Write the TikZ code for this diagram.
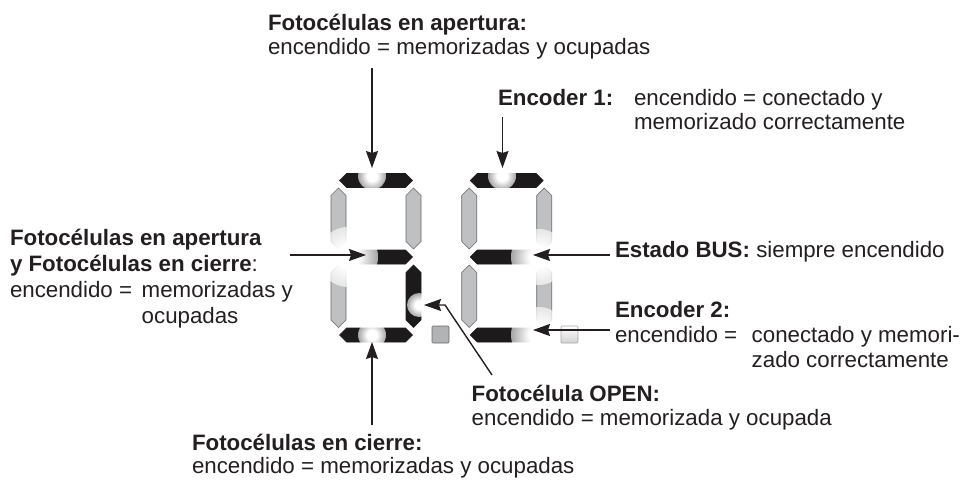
\documentclass[tikz,border=0pt]{standalone}
\usepackage{fontspec}
\setmainfont{Liberation Sans}
\usetikzlibrary{arrows.meta,fadings}
\definecolor{txt}{RGB}{35,31,32}
\definecolor{seggray}{RGB}{190,192,194}
\definecolor{segedge}{RGB}{105,105,107}
\definecolor{segblack}{RGB}{28,26,27}
\definecolor{dpgray}{RGB}{178,179,181}
\pgfdeclareradialshading{glowshade}{\pgfpointorigin}{color(0bp)=(pgftransparent!0); color(9bp)=(pgftransparent!0); color(50bp)=(pgftransparent!100)}
\pgfdeclarefading{glowfade}{\pgfuseshading{glowshade}}
\newcommand\hseg[4]{\path[#1] ({#2},{#4}) -- ({#2+7},{#4-7}) -- ({#3-7},{#4-7}) -- ({#3},{#4}) -- ({#3-7},{#4+7}) -- ({#2+7},{#4+7}) -- cycle;}
\newcommand\vseg[4]{\path[#1] ({#4},{#2}) -- ({#4+7.5},{#2+7.5}) -- ({#4+7.5},{#3-7.5}) -- ({#4},{#3}) -- ({#4-7.5},{#3-7.5}) -- ({#4-7.5},{#2+7.5}) -- cycle;}
\newcommand\glow[3]{\fill[white, path fading=glowfade] (#1,#2) circle (#3);}
\begin{document}
\begin{tikzpicture}[x=1pt,y=-1pt,
  lit/.style={fill=segblack,draw=segblack,line width=0.6pt},
  unlit/.style={fill=seggray,draw=segedge,line width=0.6pt},
  arr/.style={draw=txt,line width=1.4pt,-{Stealth[length=17pt,width=12pt,inset=2pt]}},
  lbl/.style={anchor=base west,inner sep=0pt,outer sep=0pt,text=txt,font=\fontsize{22.3}{25}\selectfont}]
\useasboundingbox (0,0) rectangle (963,481);
% digit 1
\hseg{lit}{339.5}{412.5}{180.5}
\vseg{unlit}{188}{249}{338.5}
\vseg{unlit}{188}{249}{413.5}
\hseg{lit}{339.5}{412.5}{257}
\vseg{unlit}{265}{327.5}{338.5}
\vseg{lit}{265}{327.5}{413.5}
\hseg{lit}{339.5}{412.5}{335}
% digit 2
\hseg{lit}{470.2}{543.2}{180.5}
\vseg{unlit}{188}{249}{469.2}
\vseg{unlit}{188}{249}{544.2}
\hseg{lit}{470.2}{543.2}{257}
\vseg{unlit}{265}{327.5}{469.2}
\vseg{unlit}{265}{327.5}{544.2}
\hseg{lit}{470.2}{543.2}{335}
% glows
\glow{372}{176}{14}
\glow{348}{257}{30}
\glow{419}{305}{12}
\glow{372}{335}{14}
\glow{502}{176}{14}
\glow{539}{257}{28}
\glow{539}{335}{28}
% decimal points
\path[fill=dpgray,draw=segedge,line width=0.6pt,rounded corners=1pt] (432,326) rectangle (449,343);
\path[top color=white,bottom color=black!18,draw=black!35,line width=0.6pt,rounded corners=1pt] (561,326) rectangle (578,343);
% coordinates
\coordinate (a1s) at (372,68);   \coordinate (a1t) at (372,168);
\coordinate (a2s) at (502.5,117); \coordinate (a2t) at (502.5,168);
\coordinate (a3s) at (290,255);  \coordinate (a3t) at (366,255);
\coordinate (a4s) at (372,425);  \coordinate (a4t) at (372,342);
\coordinate (a5s) at (492,375);  \coordinate (a5b) at (445,305); \coordinate (a5t) at (424,305);
\coordinate (a6s) at (610,255);  \coordinate (a6t) at (533,255);
\coordinate (a7s) at (610,330);  \coordinate (a7t) at (533,330);
% arrows
\draw[arr] (a1s) -- (a1t);
\draw[arr] (a2s) -- (a2t);
\draw[arr] (a3s) -- (a3t);
\draw[arr] (a4s) -- (a4t);
\draw[arr] (a5s) -- (a5b) -- (a5t);
\draw[arr] (a6s) -- (a6t);
\draw[arr] (a7s) -- (a7t);
% texts
\node[lbl] (t1a) at (268,30.7) {\bfseries Fotocélulas en apertura:};
\node[lbl] (t1b) at (268,55) {encendido = memorizadas y ocupadas};
\node[lbl] (t2a) at (498,105.7) {\bfseries Encoder 1:};
\node[lbl] (t2b) at (634,105.7) {encendido = conectado y};
\node[lbl] (t2c) at (634,130) {memorizado correctamente};
\node[lbl] (t3a) at (10,245) {\bfseries Fotocélulas en apertura};
\node[lbl] (t3b) at (10,271) {\textbf{y Fotocélulas en cierre}:};
\node[lbl] (t3c) at (10,297) {encendido =};
\node[lbl] (t3d) at (141.7,297) {memorizadas y};
\node[lbl] (t3e) at (141.7,323) {ocupadas};
\node[lbl] (t4) at (615,257) {\textbf{Estado BUS:} siempre encendido};
\node[lbl] (t5a) at (615,317) {\bfseries Encoder 2:};
\node[lbl] (t5b) at (615,342) {encendido =};
\node[lbl] (t5c) at (751.7,342) {conectado y memori-};
\node[lbl] (t5d) at (751.7,367) {zado correctamente};
\node[lbl] (t6a) at (471.7,401.7) {\bfseries Fotocélula OPEN:};
\node[lbl] (t6b) at (471.7,425) {encendido = memorizada y ocupada};
\node[lbl] (t7a) at (192,450) {\bfseries Fotocélulas en cierre:};
\node[lbl] (t7b) at (192,473) {encendido = memorizadas y ocupadas};
\end{tikzpicture}
\end{document}
